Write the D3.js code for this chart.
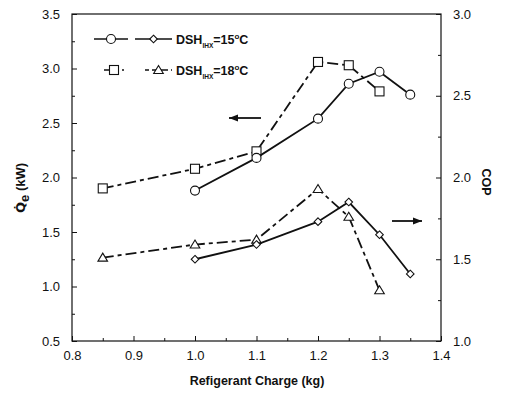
<!DOCTYPE html>
<html><head><meta charset="utf-8">
<script src="https://cdn.jsdelivr.net/npm/d3@7"></script>
<style>body{margin:0;background:#fff}svg{display:block}text{font-family:"Liberation Sans",Arial,sans-serif;fill:#111}</style>
</head><body><svg id="c" width="505" height="393"></svg>
<script>
const xTicks=[0.8,0.9,1.0,1.1,1.2,1.3,1.4];
const qTicks=[0.5,1.0,1.5,2.0,2.5,3.0,3.5];
const copTicks=[1.0,1.5,2.0,2.5,3.0];
const charge15=[1.0,1.1,1.2,1.25,1.3,1.35];
const charge18=[0.85,1.0,1.1,1.2,1.25,1.3];
const q15=[1.88,2.18,2.54,2.86,2.97,2.76];
const q18=[1.90,2.08,2.24,3.06,3.03,2.79];
const cop15=[1.50,1.59,1.73,1.85,1.65,1.41];
const cop18=[1.51,1.59,1.62,1.93,1.76,1.31];

const svg=d3.select("#c");
const L=72,R=441,T=14,B=341;
const x=d3.scaleLinear().domain([0.8,1.4]).range([L,R]);
const yq=d3.scaleLinear().domain([0.5,3.5]).range([B,T]);
const yc=d3.scaleLinear().domain([1.0,3.0]).range([B,T]);

svg.append("rect").attr("x",L).attr("y",T).attr("width",R-L).attr("height",B-T).attr("fill","none").attr("stroke","#111").attr("stroke-width",1.2);

function ticks(sel){sel.select(".domain").remove();sel.selectAll("text").style("font-size","13px").attr("fill","#111");sel.selectAll("line").attr("stroke","#111");}
const fmt=d3.format(".1f");
svg.append("g").attr("transform",`translate(0,${B})`).call(d3.axisBottom(x).tickValues(xTicks).tickFormat(fmt).tickSizeInner(-5).tickPadding(10)).call(ticks);
svg.append("g").attr("transform",`translate(0,${B})`).call(d3.axisBottom(x).tickValues(d3.range(0.85,1.4,0.1)).tickFormat("").tickSizeInner(-3)).call(ticks);
svg.append("g").attr("transform",`translate(${L},0)`).call(d3.axisLeft(yq).tickValues(qTicks).tickFormat(fmt).tickSizeInner(-5).tickPadding(12)).call(ticks);
svg.append("g").attr("transform",`translate(${L},0)`).call(d3.axisLeft(yq).tickValues(d3.range(0.75,3.5,0.5)).tickFormat("").tickSizeInner(-3)).call(ticks);
svg.append("g").attr("transform",`translate(${R},0)`).call(d3.axisRight(yc).tickValues(copTicks).tickFormat(fmt).tickSizeInner(-5).tickPadding(12)).call(ticks);
svg.append("g").attr("transform",`translate(${R},0)`).call(d3.axisRight(yc).tickValues(d3.range(1.25,3.0,0.5)).tickFormat("").tickSizeInner(-3)).call(ticks);

const dashDot="11,4,4,4";
function series(xs,ys,yScale,dash,marker){
  const pts=xs.map((d,i)=>[x(d),yScale(ys[i])]);
  svg.append("path").attr("d",d3.line()(pts)).attr("fill","none").attr("stroke","#111").attr("stroke-width",1.8).attr("stroke-dasharray",dash);
  pts.forEach(p=>drawMarker(p[0],p[1],marker));
}
function drawMarker(cx,cy,m){
  const g=svg.append("g");
  if(m==="circle") g.append("circle").attr("cx",cx).attr("cy",cy).attr("r",4.5);
  if(m==="square") g.append("rect").attr("x",cx-4.5).attr("y",cy-4.5).attr("width",9).attr("height",9);
  if(m==="diamond") g.append("path").attr("d",`M${cx},${cy-3.8}L${cx+3.8},${cy}L${cx},${cy+3.8}L${cx-3.8},${cy}Z`);
  if(m==="triangle") g.append("path").attr("d",`M${cx},${cy-4.5}L${cx+4.8},${cy+3.5}L${cx-4.8},${cy+3.5}Z`);
  g.selectAll("*").attr("fill","#fff").attr("stroke","#111").attr("stroke-width",1.1);
}
series(charge18,q18,yq,dashDot,"square");
series(charge15,q15,yq,null,"circle");
series(charge18,cop18,yc,dashDot,"triangle");
series(charge15,cop15,yc,null,"diamond");

function arrow(x1,x2,y){
  svg.append("line").attr("x1",x1).attr("x2",x2).attr("y1",y).attr("y2",y).attr("stroke","#111").attr("stroke-width",1.8);
  const d=x2>x1?-1:1;
  svg.append("path").attr("d",`M${x2},${y}L${x2+d*9},${y-3.5}L${x2+d*9},${y+3.5}Z`).attr("fill","#111");
}
arrow(261,229,118);
arrow(392,422,221);

function legendLine(x1,x2,y,dash,m){
  svg.append("line").attr("x1",x1).attr("x2",x2).attr("y1",y).attr("y2",y).attr("stroke","#111").attr("stroke-width",1.3).attr("stroke-dasharray",dash);
  drawMarker((x1+x2)/2,y,m);
}
legendLine(94,128,39,null,"circle");
legendLine(135,172,39,null,"diamond");
legendLine(104,124,70,"6,3","square");
legendLine(145,172,70,"4,3,12,0","triangle");
function legendText(y,t){
  const tx=svg.append("text").attr("x",176).attr("y",y+5).style("font-size","12.5px").style("font-weight","bold");
  tx.append("tspan").text("DSH");
  tx.append("tspan").attr("dy",4).style("font-size","6.5px").text("IHX");
  tx.append("tspan").attr("dy",-4).text("=" + t);
  tx.append("tspan").attr("dy",-5).style("font-size","8px").text("o");
  tx.append("tspan").attr("dy",5).text("C");
}
legendText(39,"15");
legendText(70,"18");

svg.append("text").attr("x",257).attr("y",385).attr("text-anchor","middle").style("font-size","12.5px").style("font-weight","bold").text("Refigerant Charge (kg)");
const yl=svg.append("text").attr("transform","translate(25,188) rotate(-90)").attr("text-anchor","middle").style("font-size","13px").style("font-weight","bold");
yl.append("tspan").style("font-family","DejaVu Sans").text("Q\u0307");
yl.append("tspan").attr("dy",4).style("font-size","13px").text("e");
yl.append("tspan").attr("dy",-4).text(" (kW)");
svg.append("text").attr("transform","translate(482,182) rotate(90)").attr("text-anchor","middle").style("font-size","12.5px").style("font-weight","bold").text("COP");
</script></body></html>
